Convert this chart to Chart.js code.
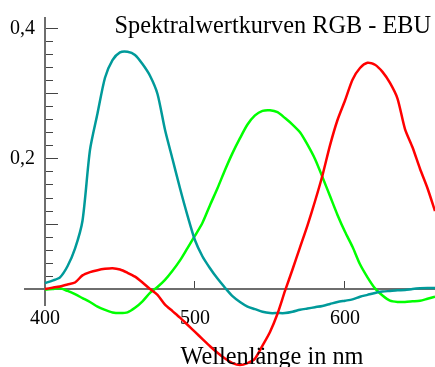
<!DOCTYPE html>
<html>
<head>
<meta charset="utf-8">
<script src="https://cdn.jsdelivr.net/npm/chart.js"></script>
<style>
html, body { margin: 0; padding: 0; background: #fff; }
</style>
</head>
<body>
<canvas id="myChart" width="435" height="367"></canvas>
<script>
// Wellenlaengen in nm
var wellenlaengen = [400, 405, 410, 415, 420, 425, 430, 435, 440, 445, 450, 455, 460, 465, 470, 475, 480, 485, 490, 495,
  500, 505, 510, 515, 520, 525, 530, 535, 540, 545, 550, 555, 560, 565, 570, 575, 580, 585, 590, 595,
  600, 605, 610, 615, 620, 625, 630, 635, 640, 645, 650, 655, 660];

var rotWerte = [0, 0.002, 0.004, 0.007, 0.010, 0.021, 0.026, 0.029, 0.031, 0.032, 0.030, 0.025, 0.019, 0.010, 0.000, -0.009, -0.024, -0.034, -0.044, -0.055,
  -0.066, -0.077, -0.088, -0.098, -0.107, -0.114, -0.117, -0.114, -0.107, -0.087, -0.066, -0.038, -0.003, 0.030, 0.064, 0.098, 0.135, 0.175, 0.221, 0.260,
  0.290, 0.322, 0.340, 0.348, 0.345, 0.334, 0.317, 0.293, 0.246, 0.218, 0.185, 0.155, 0.120];

var gruenWerte = [-0.001, 0, 0.001, -0.003, -0.008, -0.014, -0.020, -0.027, -0.032, -0.036, -0.037, -0.036, -0.029, -0.019, -0.006, 0.003, 0.014, 0.028, 0.044, 0.063,
  0.082, 0.102, 0.129, 0.155, 0.183, 0.209, 0.232, 0.253, 0.267, 0.274, 0.275, 0.272, 0.263, 0.253, 0.241, 0.222, 0.200, 0.172, 0.143, 0.114,
  0.088, 0.065, 0.038, 0.018, 0.001, -0.010, -0.018, -0.020, -0.020, -0.019, -0.018, -0.015, -0.012];

var blauWerte = [0.009, 0.013, 0.018, 0.035, 0.062, 0.105, 0.214, 0.270, 0.325, 0.352, 0.364, 0.365, 0.360, 0.346, 0.328, 0.300, 0.245, 0.200, 0.155, 0.113,
  0.075, 0.050, 0.032, 0.016, 0.002, -0.011, -0.020, -0.027, -0.031, -0.035, -0.037, -0.037, -0.037, -0.035, -0.032, -0.030, -0.028, -0.026, -0.023, -0.020,
  -0.018, -0.016, -0.012, -0.009, -0.006, -0.004, -0.003, -0.002, -0.0015, 0, 0.001, 0.0015, 0.0015];

var xTicks = [400, 500, 600];
var yTicksKlein = [0.02, 0.04, 0.06, 0.08, 0.12, 0.14, 0.16, 0.18, 0.22, 0.24, 0.26, 0.28, 0.32, 0.34, 0.36, 0.38];
var yTicksGross = [0.1, 0.2, 0.3, 0.4];
var yTicksText = [0.2, 0.4];
var yBeschriftung = { '0.2': '0,2', '0.4': '0,4' };

var titel = 'Spektralwertkurven RGB - EBU';
var xTitel = 'Wellenlänge in nm';

function punkte(werte) {
  return wellenlaengen.map(function (w, i) { return { x: w, y: werte[i] }; });
}

var schrift = 'Liberation Serif';

var textPlugin = {
  id: 'texte',
  afterDraw: function (chart) {
    var c = chart.ctx;
    c.save();
    c.fillStyle = '#000';
    c.font = '24.3px "' + schrift + '"';
    c.textBaseline = 'alphabetic';
    c.textAlign = 'right';
    c.fillText(titel, 431, 33);
    c.textAlign = 'center';
    c.fillText(xTitel, 272, 364);
    c.restore();
  }
};

// scales take no room in the layout, the chart area is set by the padding
function ohnePlatz(s) {
  if (s.isHorizontal()) { s.height = 0; } else { s.width = 0; }
  s.paddingTop = 0; s.paddingBottom = 0; s.paddingLeft = 0; s.paddingRight = 0;
}
function setzeTicks(liste) {
  return function (s) { s.ticks = liste.map(function (v) { return { value: v }; }); };
}

var yMin = -0.0246, yMax = 0.4169;

var ctx = document.getElementById('myChart').getContext('2d');
var chart = new Chart(ctx, {
  type: 'line',
  data: {
    datasets: [{
      label: 'R',
      data: punkte(rotWerte),
      borderColor: '#ff0000',
      borderWidth: 2.5,
      pointRadius: 0,
      tension: 0.25,
      clip: false
    }, {
      label: 'B',
      data: punkte(blauWerte),
      borderColor: '#009a9a',
      borderWidth: 2.5,
      pointRadius: 0,
      tension: 0.25,
      clip: false
    }, {
      label: 'G',
      data: punkte(gruenWerte),
      borderColor: '#00ff00',
      borderWidth: 2.5,
      pointRadius: 0,
      tension: 0.25,
      clip: false
    }]
  },
  options: {
    responsive: false,
    animation: false,
    layout: { padding: { left: 25, right: 0, top: 18, bottom: 62 } },
    plugins: { legend: { display: false }, tooltip: { enabled: false } },
    scales: {
      x: {
        type: 'linear',
        min: 386.67,
        max: 660,
        position: { y: 0 },
        afterBuildTicks: setzeTicks(xTicks),
        afterFit: ohnePlatz,
        border: { color: '#6e6e6e', width: 2 },
        grid: { drawOnChartArea: false, tickLength: -9, tickWidth: 1, tickColor: '#444' },
        ticks: { padding: 27, color: '#000', font: { family: schrift, size: 20 }, maxRotation: 0, autoSkip: false }
      },
      y: {
        type: 'linear',
        min: yMin,
        max: yMax,
        position: { x: 400 },
        afterBuildTicks: setzeTicks(yTicksKlein),
        afterFit: ohnePlatz,
        border: { color: '#6e6e6e', width: 2 },
        grid: { drawOnChartArea: false, tickLength: -9, tickWidth: 1, tickColor: '#444' },
        ticks: { display: false }
      },
      yGross: {
        type: 'linear',
        min: yMin,
        max: yMax,
        position: { x: 400 },
        afterBuildTicks: setzeTicks(yTicksGross),
        afterFit: ohnePlatz,
        border: { display: false },
        grid: { drawOnChartArea: false, tickLength: -13, tickWidth: 1, tickColor: '#444' },
        ticks: { display: false }
      },
      yText: {
        type: 'linear',
        min: yMin,
        max: yMax,
        position: { x: 393.33 },
        afterBuildTicks: setzeTicks(yTicksText),
        afterFit: ohnePlatz,
        border: { display: false },
        grid: { display: false, drawTicks: false },
        ticks: {
          padding: 0,
          color: '#000',
          font: { family: schrift, size: 20 },
          callback: function (v) { return yBeschriftung[v.toFixed(1)] || ''; }
        }
      }
    }
  },
  plugins: [textPlugin]
});
</script>
</body>
</html>
